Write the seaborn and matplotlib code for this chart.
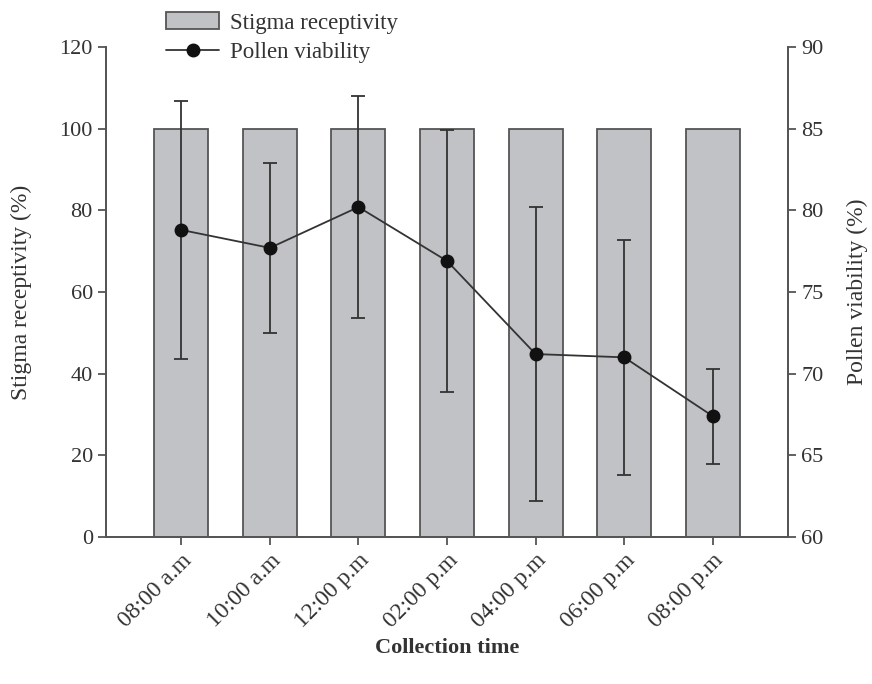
import matplotlib
matplotlib.use("Agg")
import matplotlib.pyplot as plt
import seaborn as sns
import pandas as pd
from matplotlib.patches import Patch
from matplotlib.lines import Line2D

# data
times = ["08:00 a.m", "10:00 a.m", "12:00 p.m", "02:00 p.m", "04:00 p.m", "06:00 p.m", "08:00 p.m"]
stigma = [100, 100, 100, 100, 100, 100, 100]
pollen = [78.8, 77.7, 80.2, 76.9, 71.2, 71.0, 67.4]
pollen_err = [7.9, 5.2, 6.8, 8.0, 9.0, 7.2, 2.9]

sns.set_style("ticks")
plt.rcParams["font.family"] = ["Liberation Serif", "DejaVu Serif"]
txt = "#333333"
spine = "#555555"

df = pd.DataFrame({"time": times, "stigma": stigma})

fig = plt.figure(figsize=(8.72, 6.84), dpi=100)
ax = fig.add_axes([0.1216, 0.2149, 0.7821, 0.7164])

sns.barplot(data=df, x="time", y="stigma", color="#c1c2c6", saturation=1,
            width=0.61, edgecolor=spine, linewidth=1.3, ax=ax)
ax.set_xlim(-0.85, 6.85)
ax.set_ylim(0, 120)
ax.set_yticks(range(0, 121, 20))

ax2 = ax.twinx()
ax2.errorbar(range(len(times)), pollen, yerr=pollen_err, color="#333333",
             marker="o", markersize=9, markerfacecolor="#111111", markeredgecolor="#111111",
             linewidth=1.3, elinewidth=1.3, capsize=5, capthick=1.3, zorder=5)
ax2.set_ylim(60, 90)
ax2.set_yticks(range(60, 91, 5))

for a in (ax, ax2):
    a.spines["top"].set_visible(False)
    for s in ("left", "right", "bottom"):
        a.spines[s].set_color(spine)
        a.spines[s].set_linewidth(1.3)
    a.tick_params(colors=spine, labelcolor=txt, labelsize=16, length=6, width=1.3)
ax.tick_params(axis="x", labelsize=17)

ax.set_xticklabels(times, rotation=45, ha="right", rotation_mode="anchor")
ax.set_xlabel("Collection time", fontsize=16, fontweight="bold", color=txt, labelpad=4)
ax.set_ylabel("Stigma receptivity (%)", fontsize=17, color=txt, labelpad=20)
ax2.set_ylabel("Pollen viability (%)", fontsize=17, color=txt, labelpad=17)

handles = [
    Patch(facecolor="#c1c2c6", edgecolor=spine, linewidth=1.3, label="Stigma receptivity"),
    Line2D([0], [0], color="#333333", marker="o", markersize=9, markerfacecolor="#111111",
           markeredgecolor="#111111", linewidth=1.3, label="Pollen viability"),
]
fig.legend(handles=handles, loc="upper left", bbox_to_anchor=(0.167, 1.012),
           frameon=False, fontsize=16.5, handlelength=2.3, handleheight=0.75,
           labelspacing=0.35, handletextpad=0.5, labelcolor=txt)

fig.savefig("out.png", dpi=100)
